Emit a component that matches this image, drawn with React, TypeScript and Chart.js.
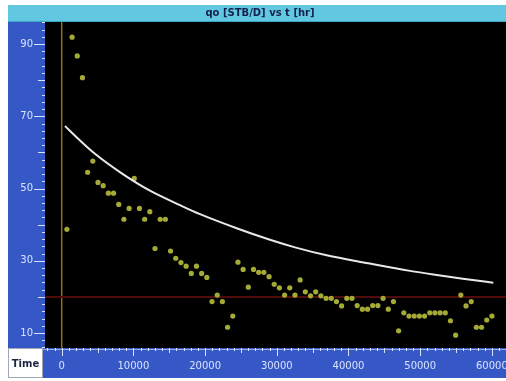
import React, { useEffect, useRef } from "react";
import { Chart, registerables } from "chart.js";

Chart.register(...registerables);

const TITLE = "qo [STB/D] vs t [hr]";
const X_LABEL = "Time";

// measured production (t [hr], qo [STB/D])
const times = [
  723, 1446, 2169, 2892, 3615, 4338, 5061, 5784, 6507, 7230,
  7953, 8676, 9399, 10122, 10845, 11568, 12291, 13014, 13737, 14460,
  15183, 15906, 16629, 17352, 18075, 18798, 19521, 20244, 20967, 21690,
  22413, 23136, 23859, 24582, 25305, 26028, 26751, 27474, 28197, 28920,
  29643, 30366, 31089, 31812, 32535, 33258, 33981, 34704, 35427, 36150,
  36873, 37596, 38319, 39042, 39765, 40488, 41211, 41934, 42657, 43380,
  44103, 44826, 45549, 46272, 46995, 47718, 48441, 49164, 49887, 50610,
  51333, 52056, 52779, 53502, 54225, 54948, 55671, 56394, 57117, 57840,
  58563, 59286, 60009,
];
const rates = [
  38.7, 91.9, 86.7, 80.7, 54.5, 57.6, 51.7, 50.8, 48.7, 48.7,
  45.6, 41.5, 44.5, 52.8, 44.5, 41.5, 43.6, 33.4, 41.5, 41.5,
  32.7, 30.7, 29.5, 28.5, 26.5, 28.5, 26.5, 25.4, 18.7, 20.5,
  18.7, 11.6, 14.7, 29.6, 27.6, 22.7, 27.6, 26.8, 26.8, 25.6,
  23.5, 22.5, 20.5, 22.5, 20.5, 24.7, 21.4, 20.3, 21.4, 20.3,
  19.6, 19.6, 18.7, 17.5, 19.6, 19.6, 17.6, 16.6, 16.6, 17.6,
  17.6, 19.6, 16.6, 18.7, 10.6, 15.6, 14.7, 14.7, 14.7, 14.7,
  15.6, 15.6, 15.6, 15.6, 13.4, 9.4, 20.5, 17.5, 18.7, 11.6,
  11.6, 13.6, 14.7,
];

// fitted decline curve
const fitTimes = [460, 920, 4640, 8370, 12310, 16500, 19290, 24400, 29050, 32540, 36960, 42760, 48580, 51830, 56490, 60200];
const fitRates = [67.3, 66.4, 59.6, 54.2, 49.4, 45.4, 42.9, 39.0, 35.8, 33.7, 31.5, 29.3, 27.2, 26.2, 24.9, 23.9];

const zeroTime = 0;
const rateLimit = 20;

const xTickValues = [0, 10000, 20000, 30000, 40000, 50000, 60000];
const xTickLabels = ["0", "10000", "20000", "30000", "40000", "50000", "60000"];
const yTickValues = [10, 30, 50, 70, 90];
const yTickLabels = ["10", "30", "50", "70", "90"];

const X_MIN = -2330;
const X_MAX = 61970;
const Y_MIN = 5.85;
const Y_MAX = 96.1;

const FONT = "'DejaVu Sans', Verdana, sans-serif";
const BLUE = "#3658c6";
const CYAN = "#62c8e2";
const TICK = "#d8e2ff";

const framePlugin = {
  id: "frame",
  beforeDraw(chart: any) {
    const { ctx, chartArea: a, width, height } = chart;
    ctx.save();
    ctx.fillStyle = "#ffffff";
    ctx.fillRect(0, 0, width, height);
    // title bar
    ctx.fillStyle = CYAN;
    ctx.fillRect(8, 5, width - 8, a.top - 5);
    ctx.fillStyle = "#3aa6c6";
    ctx.fillRect(8, a.top - 1, width - 8, 1);
    // left axis panel
    ctx.fillStyle = BLUE;
    ctx.fillRect(8, a.top, a.left - 8, a.bottom - a.top);
    // bottom axis strip
    ctx.fillRect(43, a.bottom, width - 43, 30);
    // Time box
    ctx.fillStyle = "#ffffff";
    ctx.fillRect(8, a.bottom, 35, 30);
    ctx.strokeStyle = "#a0a8b8";
    ctx.lineWidth = 1;
    ctx.strokeRect(8.5, a.bottom + 0.5, 34, 29);
    // plot background
    ctx.fillStyle = "#000000";
    ctx.fillRect(a.left, a.top, a.right - a.left, a.bottom - a.top);
    // title text
    ctx.fillStyle = "#14204a";
    ctx.font = `bold 10px ${FONT}`;
    ctx.textAlign = "center";
    ctx.textBaseline = "middle";
    ctx.fillText(TITLE, (8 + width) / 2 + 3, (5 + a.top) / 2);
    // Time label
    ctx.fillStyle = "#1c2440";
    ctx.fillText(X_LABEL, 25.5, a.bottom + 16);
    ctx.restore();
  },
  afterDraw(chart: any) {
    const { ctx, chartArea: a, scales } = chart;
    const xs = scales.x;
    const ys = scales.y;
    ctx.save();
    ctx.strokeStyle = TICK;
    ctx.lineWidth = 1;
    // y ticks
    for (let v = 6; v <= 96; v += 2) {
      const py = Math.round(ys.getPixelForValue(v)) + 0.5;
      const len = v % 20 === 10 ? 11 : v % 10 === 0 ? 7 : 3;
      ctx.beginPath();
      ctx.moveTo(a.left - len, py);
      ctx.lineTo(a.left, py);
      ctx.stroke();
    }
    // x ticks
    ctx.globalAlpha = 0.6;
    ctx.beginPath();
    ctx.moveTo(43, a.bottom + 1.5);
    ctx.lineTo(a.right, a.bottom + 1.5);
    ctx.stroke();
    ctx.globalAlpha = 1;
    for (let v = -2000; v <= 61000; v += 1000) {
      const px = Math.round(xs.getPixelForValue(v)) + 0.5;
      const len = v % 10000 === 0 ? 8 : v % 5000 === 0 ? 5 : 3;
      ctx.beginPath();
      ctx.moveTo(px, a.bottom);
      ctx.lineTo(px, a.bottom + len);
      ctx.stroke();
    }
    // labels
    ctx.fillStyle = TICK;
    ctx.font = `10px ${FONT}`;
    ctx.textAlign = "right";
    ctx.textBaseline = "middle";
    yTickValues.forEach((v, i) => {
      ctx.fillText(yTickLabels[i], a.left - 12, ys.getPixelForValue(v));
    });
    ctx.textAlign = "center";
    xTickValues.forEach((v, i) => {
      ctx.fillText(xTickLabels[i], xs.getPixelForValue(v), a.bottom + 18);
    });
    ctx.restore();
  },
};

export default function App() {
  const ref = useRef<HTMLCanvasElement | null>(null);
  useEffect(() => {
    if (!ref.current) return;
    const chart = new Chart(ref.current, {
      type: "scatter",
      data: {
        datasets: [
          {
            label: "fit",
            data: fitTimes.map((t, i) => ({ x: t, y: fitRates[i] })),
            showLine: true,
            borderColor: "#e8e8ec",
            borderWidth: 2,
            pointRadius: 0,
            cubicInterpolationMode: "monotone",
            order: 0,
          } as any,
          {
            label: "qo",
            data: times.map((t, i) => ({ x: t, y: rates[i] })),
            pointRadius: 2.6,
            pointBackgroundColor: "#a4aa36",
            pointBorderWidth: 0,
            borderWidth: 0,
            order: 1,
          } as any,
          {
            label: "limit",
            data: [
              { x: X_MIN, y: rateLimit },
              { x: X_MAX, y: rateLimit },
            ],
            showLine: true,
            borderColor: "#520b0b",
            borderWidth: 2,
            pointRadius: 0,
            order: 2,
          } as any,
          {
            label: "t0",
            data: [
              { x: zeroTime, y: Y_MIN },
              { x: zeroTime, y: Y_MAX },
            ],
            showLine: true,
            borderColor: "#94701e",
            borderWidth: 1.5,
            pointRadius: 0,
            order: 3,
          } as any,
        ],
      },
      options: {
        responsive: false,
        animation: false,
        layout: { autoPadding: false, padding: { left: 45, top: 22, right: 0, bottom: 33 } },
        plugins: { legend: { display: false }, tooltip: { enabled: false }, title: { display: false } },
        scales: {
          x: { type: "linear", display: false, min: X_MIN, max: X_MAX },
          y: { type: "linear", display: false, min: Y_MIN, max: Y_MAX },
        },
      },
      plugins: [framePlugin],
    });
    return () => chart.destroy();
  }, []);
  return (
    <div style={{ position: "absolute", left: 0, top: 0, width: 506, height: 381 }}>
      <canvas ref={ref} width={506} height={381} style={{ display: "block", width: 506, height: 381 }} />
    </div>
  );
}
